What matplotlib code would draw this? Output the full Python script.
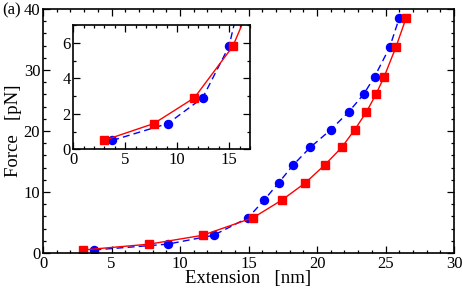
import matplotlib
matplotlib.use("Agg")
import matplotlib.pyplot as plt
from matplotlib.ticker import MultipleLocator

plt.rcParams["font.family"] = ["Liberation Serif", "DejaVu Serif"]

# force values (shared by both series)
force = [0.5, 1.45, 2.9, 5.8, 8.7, 11.5, 14.4, 17.3, 20.2, 23.1, 26.0, 28.9, 33.7, 38.5]

# red squares, solid line
ext_red = [2.95, 7.75, 11.65, 15.35, 17.45, 19.15, 20.55, 21.8, 22.75, 23.6, 24.3, 24.9, 25.75, 26.5]

# blue circles, dashed line
ext_blue = [3.75, 9.1, 12.45, 14.98, 16.15, 17.2, 18.25, 19.5, 21.0, 22.3, 23.4, 24.2, 25.3, 26.0]


def style_axes(ax, xmaj, xmin, ymaj, ymin, size):
    ax.xaxis.set_major_locator(MultipleLocator(xmaj))
    ax.xaxis.set_minor_locator(MultipleLocator(xmin))
    ax.yaxis.set_major_locator(MultipleLocator(ymaj))
    ax.yaxis.set_minor_locator(MultipleLocator(ymin))
    ax.tick_params(which="both", direction="in", top=True, right=True,
                   labelsize=size, pad=2, width=0.9)
    ax.tick_params(which="major", length=5)
    ax.tick_params(which="minor", length=2.5)
    for s in ax.spines.values():
        s.set_linewidth(1.2)


def draw_series(ax, ms):
    ax.plot(ext_blue, force, color="blue", linestyle="--", linewidth=1.0,
            marker="o", markersize=ms, dashes=(5, 3))
    ax.plot(ext_red, force, color="red", linestyle="-", linewidth=1.0,
            marker="s", markersize=ms - 0.5)


fig = plt.figure(figsize=(4.63, 2.89), dpi=100)

ax = fig.add_axes([0.0929, 0.1246, 0.8877, 0.8443])
draw_series(ax, 5.8)
ax.set_xlim(0, 30)
ax.set_ylim(0, 40)
style_axes(ax, 5, 1, 10, 2, 12)
ax.set_xlabel("Extension   [nm]", fontsize=13.5, labelpad=-1)
ax.set_ylabel("Force   [pN]", fontsize=13.5, labelpad=1)
fig.text(0.004, 0.965, "(a)", fontsize=12, va="center", ha="left")

ins = fig.add_axes([0.1583, 0.4834, 0.3816, 0.4301])
draw_series(ins, 5.8)
ins.set_xlim(0, 17)
ins.set_ylim(0, 7)
style_axes(ins, 5, 1, 2, 1, 12)

fig.savefig("out.png", dpi=100)
